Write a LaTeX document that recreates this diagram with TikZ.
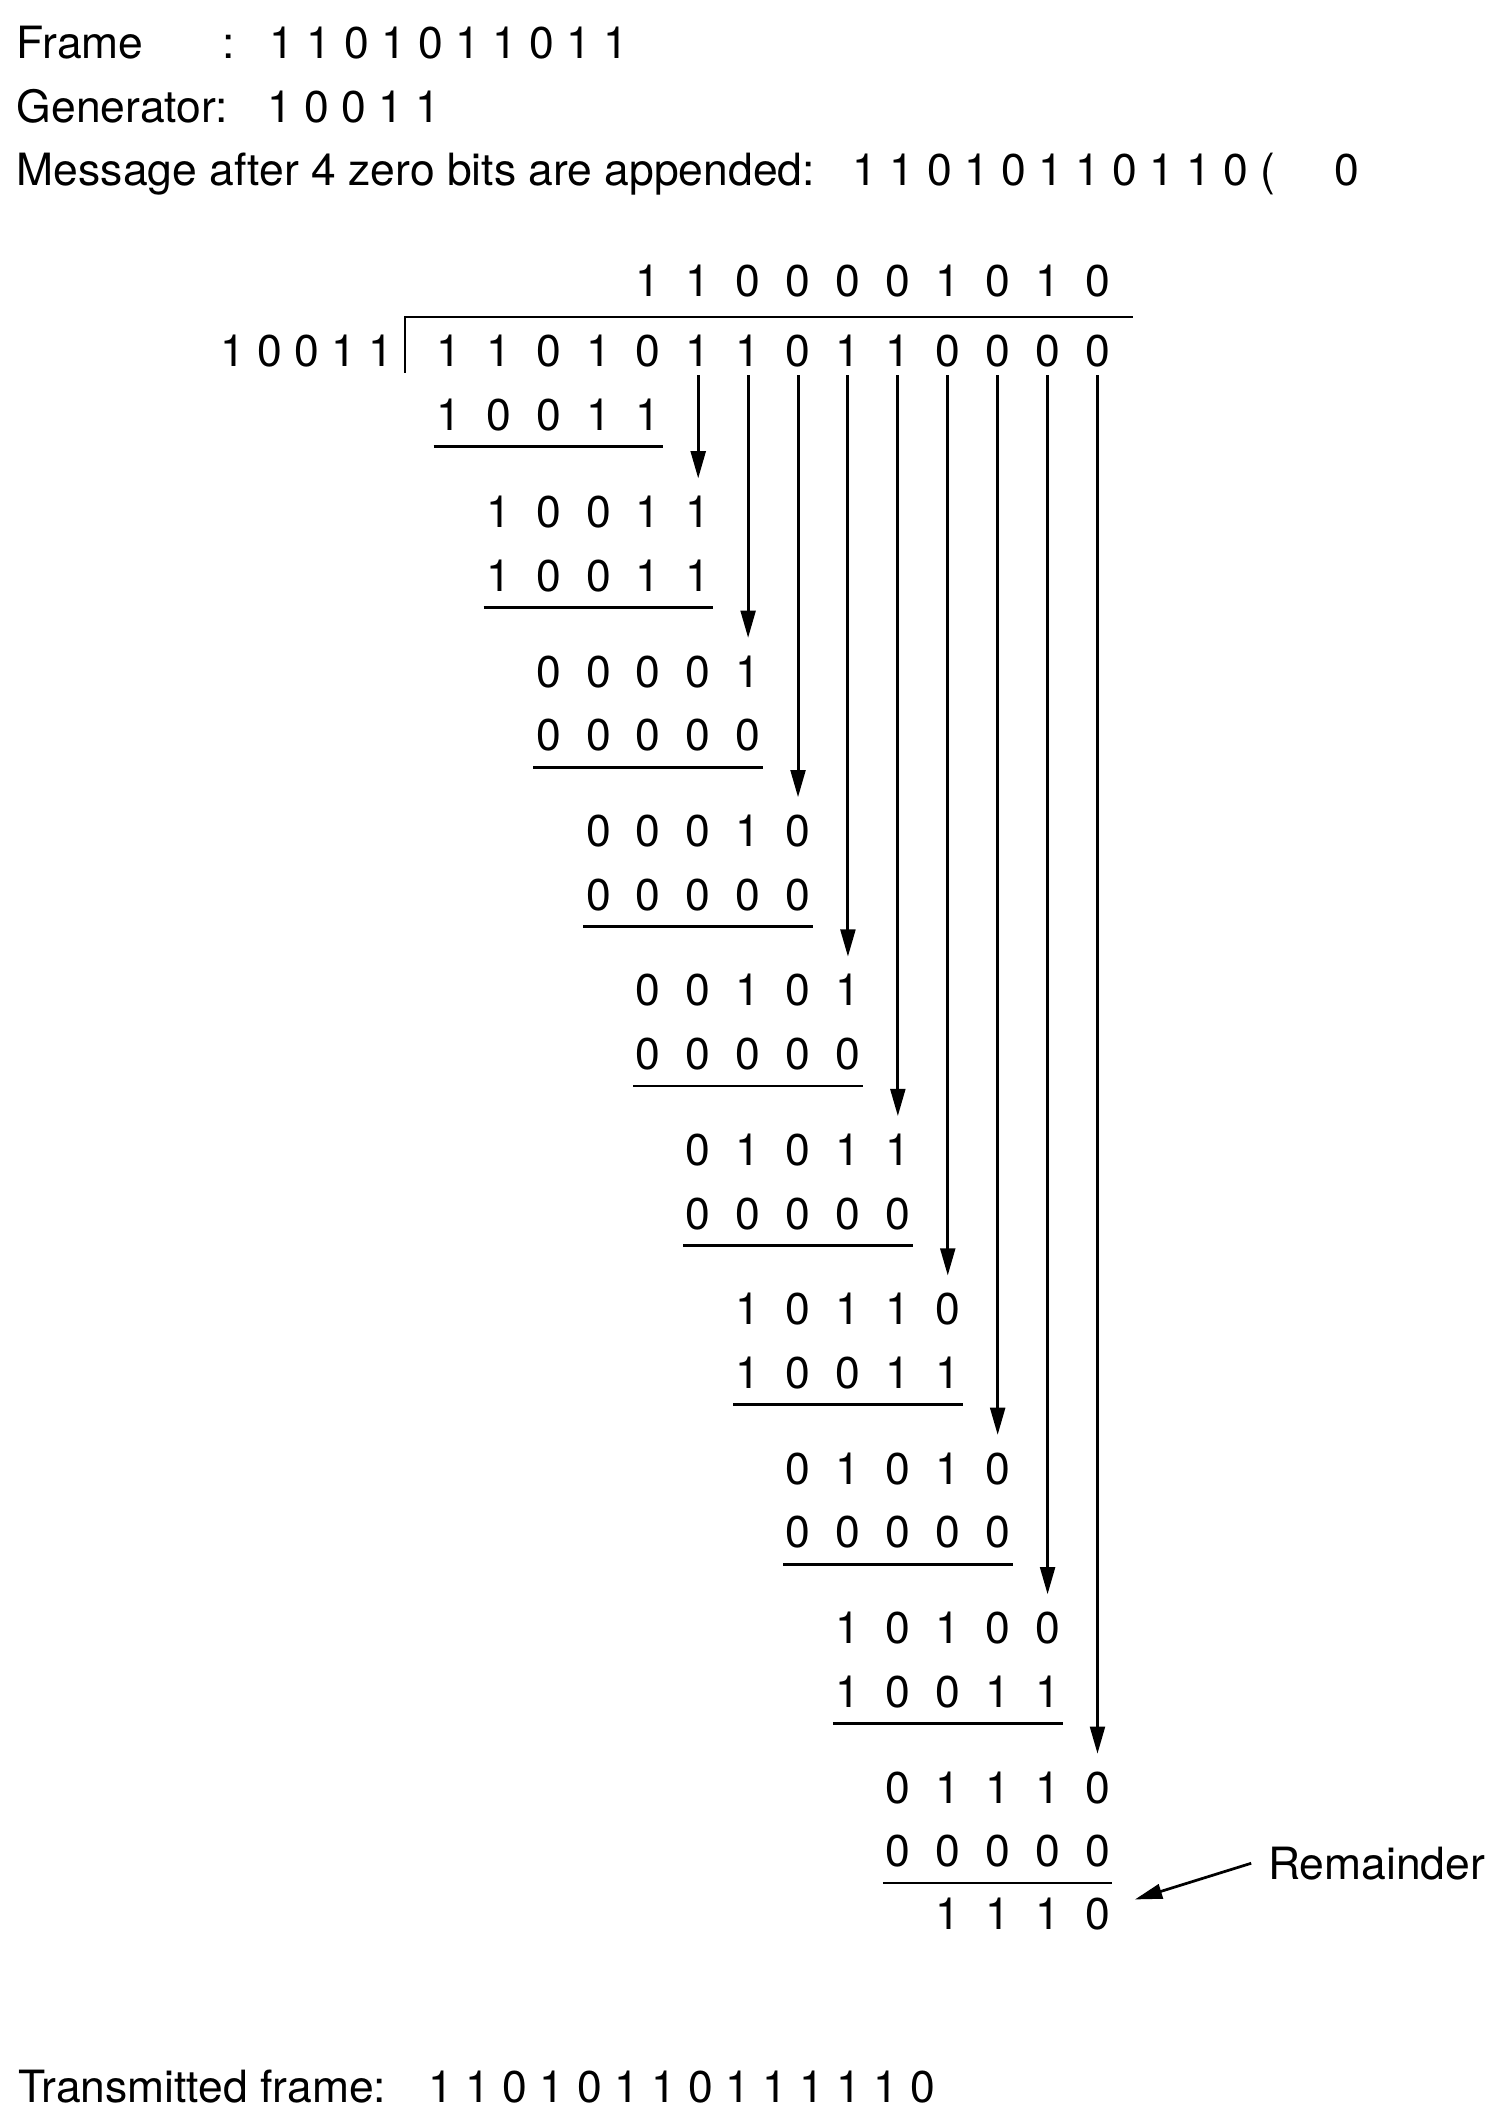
\documentclass[tikz,border=0pt]{standalone}
\usepackage{fontspec}
\setmainfont{TeX Gyre Heros}
\usetikzlibrary{arrows.meta}

% one row of bits, one node per column
\newcommand\bitrow[4]{%
  \foreach \b [count=\i from 0] in {#4} {
    \pgfmathtruncatemacro\col{#2+\i}
    \node[bit] (#1-\col) at ({\xo+\col*\dx},{#3}) {\b};
  }}
% line under a row
\newcommand\underrow[3]{%
  \draw[sum line] ([xshift=-5.5pt,yshift=-6pt]#1-#2.base) -- ([xshift=5.5pt,yshift=-6pt]#1-#3.base);}
% one step of the division: partial remainder, divisor or zeros, line, bit brought down
\newcommand\divstep[3]{%
  \pgfmathsetmacro\ytop{\ya+(#1-1)*\pitch}
  \pgfmathtruncatemacro\lc{#1+4}
  \bitrow{t#1}{#1}{\ytop}{#2}
  \bitrow{s#1}{#1}{\ytop+46.7}{#3}
  \underrow{s#1}{#1}{\lc}
  \draw[bring] ([yshift=-3pt]d-\lc.base) -- ([yshift=6.3pt]t#1-\lc.north);}

\begin{document}
\begin{tikzpicture}[x=0.5pt,y=-0.5pt]
\def\xo{329}
\def\dx{36.6}
\def\ya{387}
\def\pitch{116.9}
\tikzset{
  every node/.style={font=\fontsize{16.3}{19}\selectfont,inner sep=0pt},
  bit/.style={anchor=base},
  txt/.style={anchor=base west},
  sum line/.style={line width=1pt},
  bracket/.style={line width=0.8pt},
  bring/.style={-{Triangle[length=10pt,width=5.4pt]},line width=1.1pt},
  point/.style={-{Triangle[length=10pt,width=5.4pt]},line width=1pt}
}
\useasboundingbox (0,0) rectangle (1100,1560.5);

%HEADER
\node[txt] (frame) at (12,43) {Frame};
\node[txt] (colon) at (163,43) {:};
\node[txt] (framebits) at (197.5,43) {1 1 0 1 0 1 1 0 1 1};
\node[txt] (gen) at (12,89.5) {Generator:};
\node[txt] (genbits) at (195.5,89.5) {1 0 0 1 1};
\node[txt] (msg) at (12,135.7) {Message after 4 zero bits are appended:};
\node[txt] (msgbits) at (625,135.7) {1 1 0 1 0 1 1 0 1 1 0 \makebox[0.556em][l]{(}\phantom{ 0} 0};

%DIVISION
\node[txt] (divisor) at (161,269) {1 0 0 1 1};
\bitrow{q}{4}{217.5}{1,1,0,0,0,0,1,0,1,0}
\bitrow{d}{0}{269}{1,1,0,1,0,1,1,0,1,1,0,0,0,0}
\draw[bracket] (297,273.5) |- (831,232.5);

%STEPS
\bitrow{s0}{0}{315.5}{1,0,0,1,1}
\underrow{s0}{0}{4}
\divstep{1}{1,0,0,1,1}{1,0,0,1,1}
\divstep{2}{0,0,0,0,1}{0,0,0,0,0}
\divstep{3}{0,0,0,1,0}{0,0,0,0,0}
\divstep{4}{0,0,1,0,1}{0,0,0,0,0}
\divstep{5}{0,1,0,1,1}{0,0,0,0,0}
\divstep{6}{1,0,1,1,0}{1,0,0,1,1}
\divstep{7}{0,1,0,1,0}{0,0,0,0,0}
\divstep{8}{1,0,1,0,0}{1,0,0,1,1}
\divstep{9}{0,1,1,1,0}{0,0,0,0,0}

%REMAINDER
\bitrow{rem}{10}{\ya+8*\pitch+93}{1,1,1,0}
\node[txt] (remlabel) at (929.5,1378) {Remainder};
\draw[point] ([xshift=-6pt]remlabel.west) -- ([xshift=9pt,yshift=5.5pt]rem-13.east);

%RESULT
\node[txt] (sent) at (13,1541.5) {Transmitted frame:};
\node[txt] (sentbits) at (314,1541.5) {1 1 0 1 0 1 1 0 1 1 1 1 1 0};

\end{tikzpicture}
\end{document}
